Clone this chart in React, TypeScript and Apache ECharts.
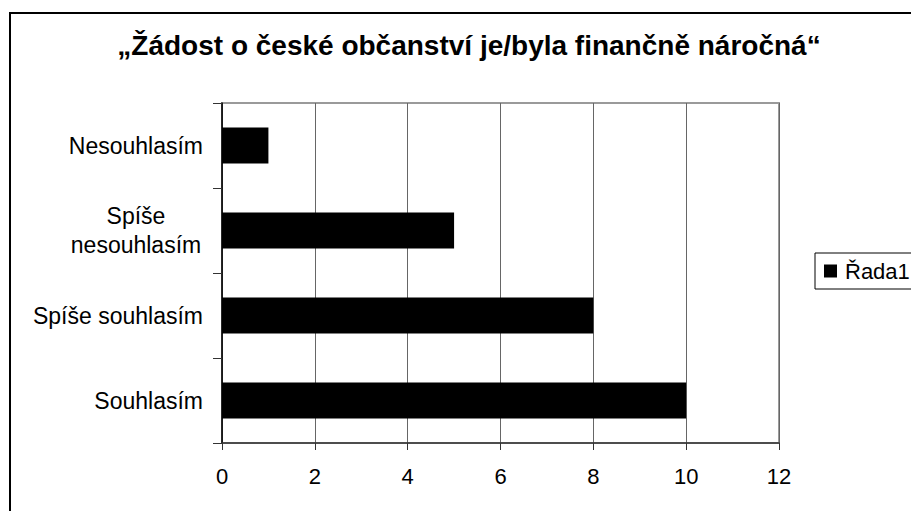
import React, { useEffect, useRef } from "react";
import * as echarts from "echarts";

const titleText = "„Žádost o české občanství je/byla finančně náročná“";
const categories = ["Souhlasím", "Spíše souhlasím", "Spíše nesouhlasím", "Nesouhlasím"];
const values = [10, 8, 5, 1];
const seriesName = "Řada1";
const xTicks = { min: 0, max: 12, interval: 2 };

const FONT = "'Liberation Sans', Arial, sans-serif";

export default function App() {
  const ref = useRef<HTMLDivElement>(null);
  useEffect(() => {
    if (!ref.current) return;
    const chart = echarts.init(ref.current, null, { renderer: "svg" });
    chart.setOption({
      animation: false,
      backgroundColor: "#fff",
      textStyle: { fontFamily: FONT },
      title: {
        text: titleText,
        left: 464,
        textAlign: "center",
        top: 26,
        textStyle: { fontFamily: FONT, fontSize: 28, fontWeight: "bold", color: "#000" },
      },
      legend: {
        left: 815,
        top: 253,
        orient: "vertical",
        icon: "rect",
        itemWidth: 13,
        itemHeight: 13,
        itemGap: 0,
        borderColor: "#000",
        borderWidth: 1,
        borderRadius: 0,
        padding: [7, 80, 7, 9],
        textStyle: { fontFamily: FONT, fontSize: 22, color: "#000", padding: [0, 0, 0, 3] },
        data: [seriesName],
      },
      graphic: [
        {
          type: "rect",
          shape: { x: 10, y: 13, width: 1000, height: 1000 },
          style: { fill: "none", stroke: "#000", lineWidth: 2 },
          silent: true,
          z: 100,
        },
      ],
      grid: {
        left: 222,
        right: 132,
        top: 103,
        bottom: 68,
        show: true,
        borderColor: "#9a9a9a",
        borderWidth: 2,
        backgroundColor: "#fff",
      },
      xAxis: {
        type: "value",
        min: xTicks.min,
        max: xTicks.max,
        interval: xTicks.interval,
        axisLine: { show: true, lineStyle: { color: "#333", width: 1.5 } },
        axisTick: { show: true, length: 7, lineStyle: { color: "#333" } },
        axisLabel: { margin: 22, fontFamily: FONT, fontSize: 22, color: "#000" },
        splitLine: { show: true, lineStyle: { color: "#666", width: 1 } },
      },
      yAxis: {
        type: "category",
        data: categories,
        axisLine: { show: true, lineStyle: { color: "#000", width: 1.5 } },
        axisTick: { show: true, length: 9, lineStyle: { color: "#333" } },
        axisLabel: {
          margin: 19,
          fontFamily: FONT,
          fontSize: 23,
          color: "#000",
          lineHeight: 29,
          formatter: (v: string) => {
            if (v.length > 15) {
              const i = v.indexOf(" ");
              return "{m|" + v.slice(0, i) + "}\n{m|" + v.slice(i + 1) + "}";
            }
            return v;
          },
          rich: {
            m: { width: 134, align: "center", fontFamily: FONT, fontSize: 23, color: "#000", lineHeight: 29 },
          },
        },
        splitLine: { show: false },
      },
      series: [
        {
          name: seriesName,
          type: "bar",
          data: values,
          barWidth: 36,
          itemStyle: { color: "#000" },
        },
      ],
    });
    return () => chart.dispose();
  }, []);
  return <div ref={ref} style={{ width: 911, height: 511, position: "absolute", left: 0, top: 0 }} />;
}
